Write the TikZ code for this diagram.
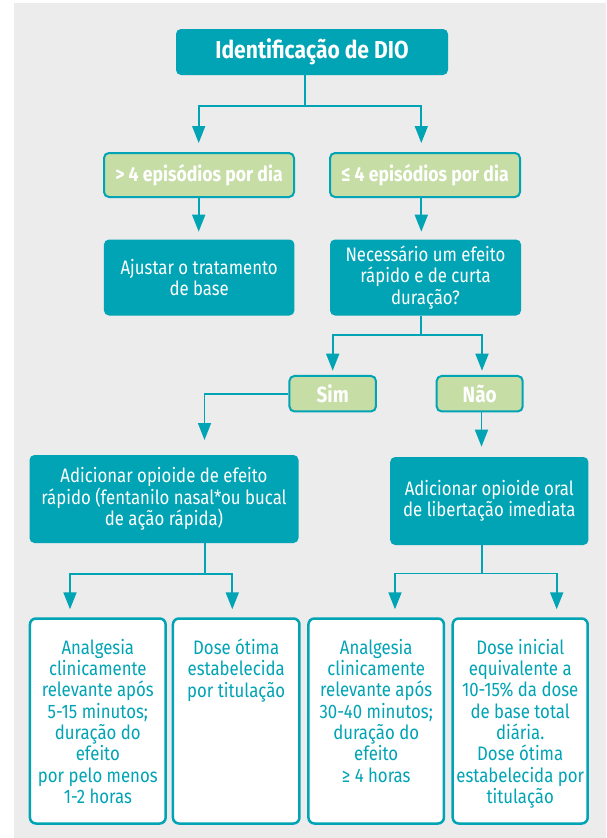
\documentclass[tikz,border=0pt]{standalone}
\usepackage{fontspec}
\setmainfont{Fira Sans}[FakeStretch=0.86]
\usetikzlibrary{arrows.meta}
\definecolor{dioteal}{HTML}{00A4B5}
\definecolor{diogreen}{HTML}{C6DDA5}
\definecolor{diogray}{HTML}{ECECEC}
\newcommand\regfont{\fontsize{19.5}{21.3}\selectfont}
\newcommand\wtext[2]{\parbox[c][190pt][t]{#1}{\regfont\centering\vspace*{13pt}#2\par}}
\begin{document}
\begin{tikzpicture}[x=1pt,y=-1pt,
  ln/.style={draw=dioteal,line width=1.7pt},
  arr/.style={ln,-{Triangle[width=13pt,length=17pt]}},
  tbox/.style={fill=dioteal,rounded corners=5pt,text=white,align=center,inner sep=0pt,font=\regfont},
  gbox/.style={fill=diogreen,draw=dioteal,line width=2pt,rounded corners=5pt,text=white,inner sep=0pt,font=\fontsize{20.5}{23}\selectfont\bfseries},
  gboxbig/.style={gbox,font=\fontsize{22}{24}\selectfont\bfseries},
  wbox/.style={fill=white,draw=dioteal,line width=2.5pt,rounded corners=6pt,text=dioteal,inner sep=0pt}]
\useasboundingbox (0,0) rectangle (606,838);
\path[fill=diogray] (14,3) rectangle (606,838);

% nodes
\node[tbox,minimum width=272pt,minimum height=46pt,font=\fontsize{24.5}{27}\selectfont\bfseries] (top) at (312,52) {Identificação de DIO};
\node[gbox,minimum width=190pt,minimum height=44pt] (g1) at (199,175) {> 4 episódios por dia};
\node[gbox,minimum width=190pt,minimum height=44pt] (g2) at (425,175) {≤ 4 episódios por dia};
\node[tbox,minimum width=190.5pt,minimum height=76pt] (a1) at (199.2,277.5) {Ajustar o tratamento\\de base};
\node[tbox,minimum width=191pt,minimum height=76pt] (a2) at (425.5,277.5) {Necessário um efeito\\rápido e de curta\\duração?};
\node[gboxbig,minimum width=86.5pt,minimum height=35.5pt] (sim) at (332.7,393.7) {Sim};
\node[gboxbig,minimum width=86pt,minimum height=35.5pt] (nao) at (479.7,393.7) {Não};
\node[tbox,minimum width=269pt,minimum height=88pt] (b1) at (164,499) {Adicionar opioide de efeito\\rápido (fentanilo nasal*ou bucal\\de ação rápida)};
\node[tbox,minimum width=198.3pt,minimum height=88pt] (b2) at (489.3,501) {Adicionar opioide oral\\de libertação imediata};

\node[wbox,minimum width=135.7pt,minimum height=205pt] (w1) at (97.8,721) {\wtext{133pt}{Analgesia\\clinicamente\\relevante após\\5-15 minutos;\\duração do\\efeito\\por pelo menos\\1-2 horas}};
\node[wbox,minimum width=126.5pt,minimum height=205pt] (w2) at (236.2,721) {\wtext{124pt}{Dose ótima\\estabelecida\\por titulação}};
\node[wbox,minimum width=135.5pt,minimum height=205pt] (w3) at (376.2,721) {\wtext{133pt}{Analgesia\\clinicamente\\relevante após\\30-40 minutos;\\duração do\\efeito\\≥ 4 horas}};
\node[wbox,minimum width=135pt,minimum height=205pt] (w4) at (520.2,721) {\wtext{133pt}{Dose inicial\\equivalente a\\10-15\% da dose\\de base total\\diária.\\Dose ótima\\estabelecida por\\titulação}};

% junctions and arrow tips
\coordinate (j1) at (305.3,106);
\coordinate (t1a) at (198.7,143);
\coordinate (t1b) at (421.3,143);
\coordinate (t2a) at (198.7,231.7);
\coordinate (t2b) at (421.3,231.7);
\coordinate (j3) at (421.3,334.7);
\coordinate (t3a) at (332.7,370.7);
\coordinate (t3b) at (482,370.7);
\coordinate (t4) at (204.5,440);
\coordinate (t5) at (481.5,446.7);
\coordinate (j6) at (205,574);
\coordinate (t6a) at (70,609.3);
\coordinate (t6b) at (232.3,609.3);
\coordinate (j7) at (482.3,573.5);
\coordinate (t7a) at (395,609.3);
\coordinate (t7b) at (556.7,609.3);

% connectors
\draw[arr] (top.south -| j1) -- (j1) -| (t1a);
\draw[arr] (j1) -| (t1b);
\draw[arr] (g1.south -| t2a) -- (t2a);
\draw[arr] (g2.south -| t2b) -- (t2b);
\draw[arr] (a2.south -| j3) -- (j3) -| (t3a);
\draw[arr] (j3) -| (t3b);
\draw[arr] (sim.west) -| (t4);
\draw[arr] (nao.south -| t5) -- (t5);
\draw[arr] (b1.south -| j6) -- (j6) -| (t6a);
\draw[arr] (j6) -| (t6b);
\draw[arr] (b2.south -| j7) -- (j7) -| (t7a);
\draw[arr] (j7) -| (t7b);
\end{tikzpicture}
\end{document}
